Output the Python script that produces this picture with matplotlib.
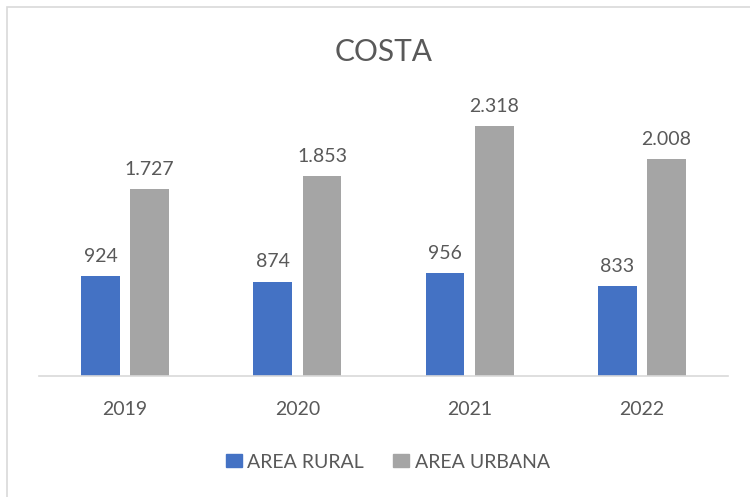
import matplotlib
matplotlib.use("Agg")
import matplotlib.pyplot as plt
from matplotlib.patches import Rectangle, Patch

years = ["2019", "2020", "2021", "2022"]
rural = [924, 874, 956, 833]
urbana = [1727, 1853, 2318, 2008]
series_names = ["AREA RURAL", "AREA URBANA"]
title = "COSTA"

BLUE = "#4472C4"
GRAY = "#A5A5A5"
TEXT = "#595959"
LINE = "#D9D9D9"

plt.rcParams["font.family"] = ["Lato", "DejaVu Sans"]

W, H = 750, 497
fig = plt.figure(figsize=(W / 100, H / 100), dpi=100)
fig.patch.set_facecolor("white")

# chart frame (top and left edges visible)
fig.patches.append(Rectangle((7 / W, -0.1), 1.2, (H - 7) / H + 0.1,
                             transform=fig.transFigure, fill=False,
                             edgecolor=LINE, linewidth=1.2))

ax = fig.add_axes([39 / W, (H - 376) / H, (728 - 39) / W, (376 - 106) / H])
x = list(range(len(years)))
width = 0.225
off = 0.143
b1 = ax.bar([i - off for i in x], rural, width, color=BLUE, label=series_names[0])
b2 = ax.bar([i + off for i in x], urbana, width, color=GRAY, label=series_names[1])

def fmt(v):
    return f"{v:,}".replace(",", ".")

for bars, vals in ((b1, rural), (b2, urbana)):
    for rect, v in zip(bars, vals):
        ax.annotate(fmt(v), (rect.get_x() + rect.get_width() / 2, v),
                    xytext=(0, 8), textcoords="offset points",
                    ha="center", va="bottom", fontsize=14, color=TEXT)

ax.set_xlim(-0.5, 3.5)
ax.set_ylim(0, 2500)
ax.set_xticks(x)
ax.set_xticklabels(years, fontsize=14, color=TEXT)
ax.tick_params(axis="x", length=0, pad=18)
ax.set_yticks([])
for s in ("top", "right", "left"):
    ax.spines[s].set_visible(False)
ax.spines["bottom"].set_color(LINE)
ax.spines["bottom"].set_linewidth(1.2)

fig.text(384 / W, (H - 52) / H, title, ha="center", va="center",
         fontsize=21.5, color=TEXT)

handles = [Patch(color=BLUE), Patch(color=GRAY)]
fig.legend(handles, series_names, loc="center", bbox_to_anchor=(388 / W, (H - 462) / H),
           ncol=2, frameon=False, fontsize=14, labelcolor=TEXT,
           handlelength=0.8, handleheight=0.65, handletextpad=0.3, columnspacing=1.5)

fig.savefig("out.png", dpi=100)
